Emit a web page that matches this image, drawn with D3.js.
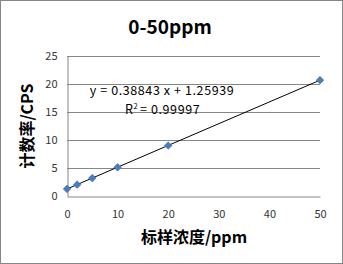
<!DOCTYPE html>
<html>
<head>
<meta charset="utf-8">
<script src="https://cdn.jsdelivr.net/npm/d3@7"></script>
<style>
  body { margin: 0; background: #fff; }
  text { font-family: "Noto Sans CJK SC", "DejaVu Sans", sans-serif; }
</style>
</head>
<body>
<div id="chart"></div>
<script>
// standard points
var concentration = [0, 2, 5, 10, 20, 50];
var counts = [1.26, 2.03, 3.2, 5.12, 9.02, 20.68];
var xTicks = [0, 10, 20, 30, 40, 50];
var yTicks = [0, 5, 10, 15, 20, 25];
var slope = 0.38843, intercept = 1.25939;

var width = 343, height = 264,
    margin = {top: 56, right: 23, bottom: 68, left: 67};

var svg = d3.select("#chart").append("svg")
    .attr("width", width)
    .attr("height", height);

svg.append("rect")
    .attr("x", 0.5).attr("y", 0.5)
    .attr("width", width - 1).attr("height", height - 1)
    .attr("fill", "#fff")
    .attr("stroke", "#868686");

var x = d3.scaleLinear().domain([0, 50]).range([margin.left, width - margin.right]),
    y = d3.scaleLinear().domain([0, 25]).range([height - margin.bottom, margin.top]);

// grid
svg.append("g")
  .selectAll("line").data(yTicks.slice(1)).enter()
  .append("line")
    .attr("x1", x(0)).attr("x2", x(50))
    .attr("y1", function(d) { return Math.round(y(d)) + 0.5; })
    .attr("y2", function(d) { return Math.round(y(d)) + 0.5; })
    .attr("stroke", "#868686");

var xAxis = svg.append("g")
    .attr("transform", "translate(0," + (Math.round(y(0)) + 0.5) + ")")
    .call(d3.axisBottom(x).tickValues(xTicks).tickSize(0).tickPadding(14));
var yAxis = svg.append("g")
    .attr("transform", "translate(" + (Math.round(x(0)) + 0.5) + ",0)")
    .call(d3.axisLeft(y).tickValues(yTicks).tickSize(0).tickPadding(10));

[xAxis, yAxis].forEach(function(a) {
  a.select(".domain").attr("stroke", "#868686");
  a.selectAll("text")
    .attr("font-family", "DejaVu Sans, sans-serif")
    .attr("font-size", 11)
    .attr("fill", "#333");
});

// trendline
svg.append("line")
    .attr("x1", x(0)).attr("y1", y(intercept))
    .attr("x2", x(50)).attr("y2", y(slope * 50 + intercept))
    .attr("stroke", "#000")
    .attr("stroke-width", 1);

// markers
svg.append("g")
  .selectAll("path").data(concentration).enter()
  .append("path")
    .attr("d", d3.symbol().type(d3.symbolDiamond2).size(38))
    .attr("transform", function(d, i) { return "translate(" + x(d) + "," + y(counts[i]) + ")"; })
    .attr("fill", "#4a7ebb")
    .attr("stroke", "#3a6aa5")
    .attr("stroke-width", 0.5);

// equation
var eqFont = "Liberation Sans, Arial, sans-serif";
svg.append("text")
    .attr("x", 162).attr("y", 95)
    .attr("text-anchor", "middle")
    .attr("font-family", eqFont)
    .attr("font-size", 12.5)
    .attr("letter-spacing", 0.6)
    .attr("fill", "#000")
    .text("y = 0.38843 x + 1.25939");
svg.append("text")
    .attr("x", 133).attr("y", 114)
    .attr("text-anchor", "end")
    .attr("font-family", eqFont)
    .attr("font-size", 12.5)
    .text("R");
svg.append("text")
    .attr("x", 133.5).attr("y", 108.5)
    .attr("font-family", eqFont)
    .attr("font-size", 7.5)
    .text("2");
svg.append("text")
    .attr("x", 140).attr("y", 114)
    .attr("font-family", eqFont)
    .attr("font-size", 12.5)
    .attr("letter-spacing", 0.6)
    .text("= 0.99997");

// titles
svg.append("text")
    .attr("x", 170).attr("y", 34)
    .attr("text-anchor", "middle")
    .attr("font-size", 19)
    .attr("font-weight", "bold")
    .text("0-50ppm");

svg.append("text")
    .attr("x", 194).attr("y", 243)
    .attr("text-anchor", "middle")
    .attr("font-size", 16)
    .attr("font-weight", "bold")
    .text("标样浓度/ppm");

svg.append("text")
    .attr("transform", "translate(33,126) rotate(-90)")
    .attr("text-anchor", "middle")
    .attr("font-size", 16)
    .attr("font-weight", "bold")
    .text("计数率/CPS");
</script>
</body>
</html>
